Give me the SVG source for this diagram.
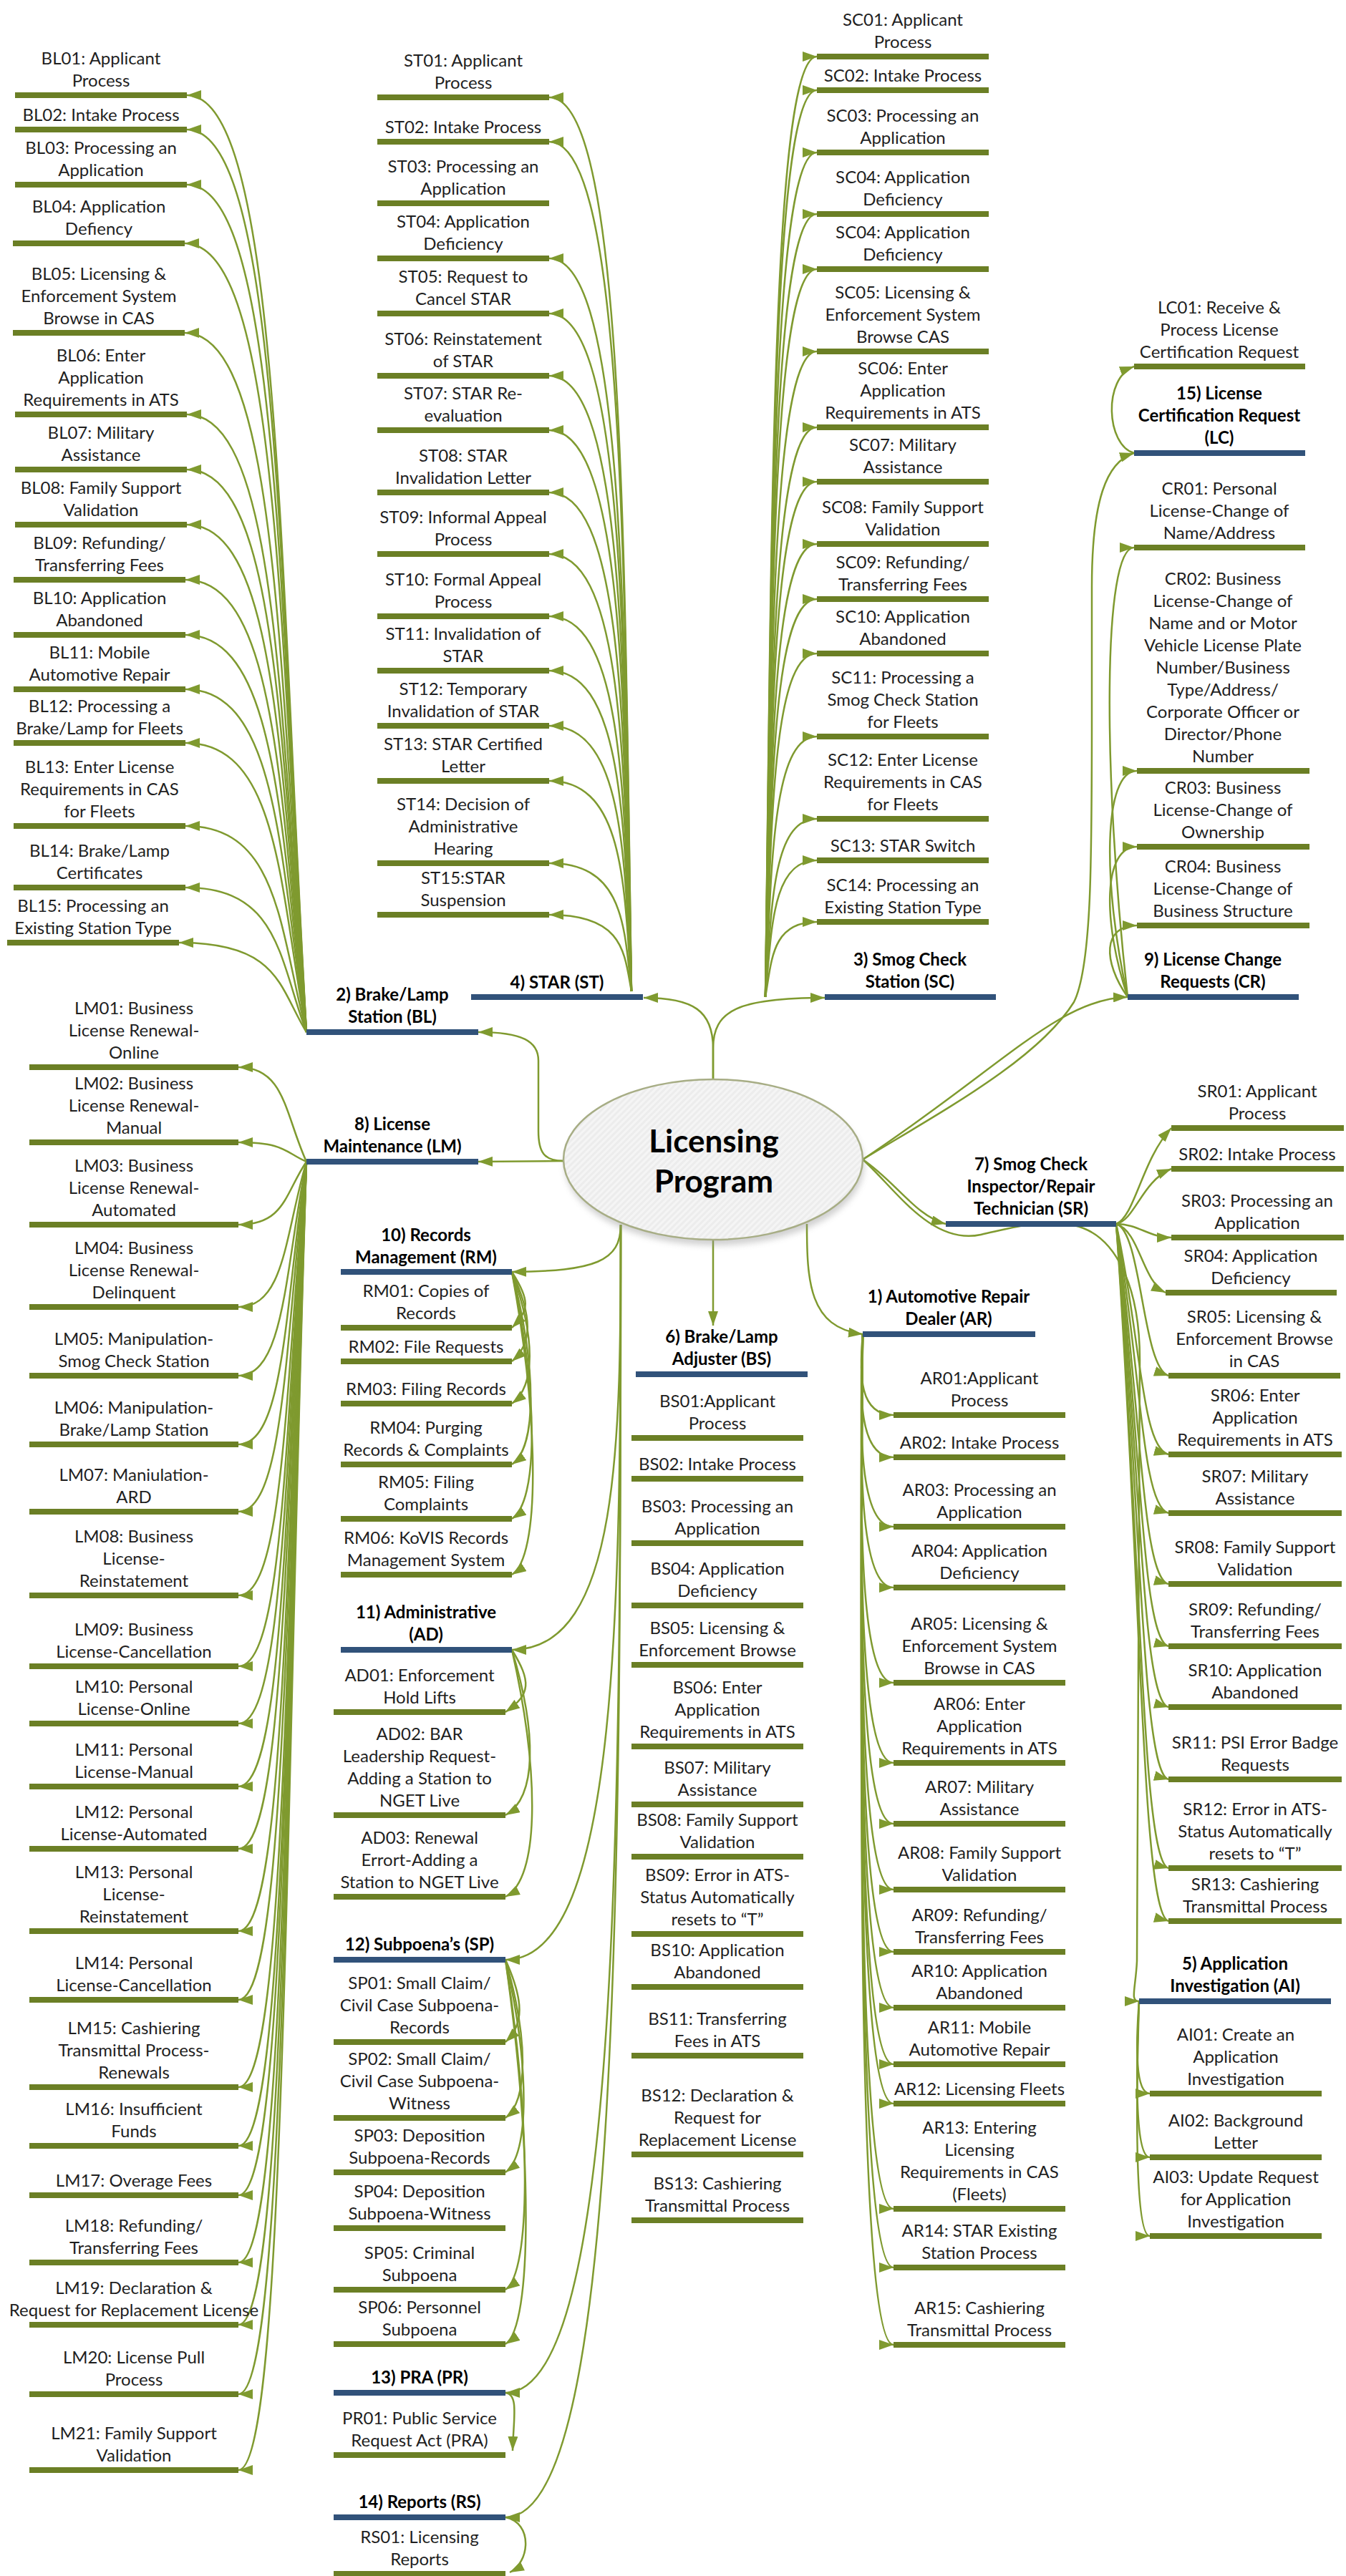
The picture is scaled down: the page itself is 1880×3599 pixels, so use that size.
<svg xmlns="http://www.w3.org/2000/svg" width="1880" height="3599" viewBox="0 0 1880 3599">
<defs>
<style>
.t{font-family:Lato,"Liberation Sans",sans-serif;font-size:24px;fill:#1f1f1f;text-anchor:middle}
.h{font-family:Lato,"Liberation Sans",sans-serif;font-size:24px;font-weight:bold;fill:#000;text-anchor:middle}
.bar{fill:#6b7f25}
.root{fill:#31527a}
.c{fill:none;stroke:#7f9a2f;stroke-width:2.5;marker-end:url(#ah)}
.title{font-family:Lato,"Liberation Sans",sans-serif;font-size:44px;font-weight:bold;fill:#000;text-anchor:middle}
</style>
<marker id="ah" markerUnits="userSpaceOnUse" viewBox="0 0 20 14" markerWidth="20" markerHeight="14" refX="20" refY="7" orient="auto">
<path d="M0 0 L20 7 L0 14 z" fill="#7f9a2f"/>
</marker>
<pattern id="hatch" width="6" height="6" patternUnits="userSpaceOnUse" patternTransform="rotate(45)">
<rect width="6" height="6" fill="#ececec"/><rect width="3" height="6" fill="#f5f5f5"/>
</pattern>
<filter id="sh" x="-20%" y="-20%" width="140%" height="140%"><feGaussianBlur stdDeviation="4"/></filter>
</defs>
<rect width="1880" height="3599" fill="#fff"/>

<g id="connectors">
<!-- centre to main branches -->
<path class="c" d="M996 1508 L996 1465 C996 1412 968 1394 899 1394"/>
<path class="c" d="M996 1508 L996 1465 C996 1412 1030 1394 1152 1394"/>
<path class="c" d="M787 1622 C760 1622 752 1610 752 1580 L752 1482 C752 1455 730 1442 668 1442"/>
<path class="c" d="M787 1622 L668 1623"/>
<path class="c" d="M867 1711 C867 1762 832 1776 715 1777"/>
<path class="c" d="M867 1711 C867 2008 867 2305 715 2305"/>
<path class="c" d="M867 1711 C867 2224 867 2738 706 2738"/>
<path class="c" d="M867 1711 C867 2527 867 3343 706 3343"/>
<path class="c" d="M867 1711 C867 2614 867 3517 706 3517"/>
<path class="c" d="M996 1733 L996 1852"/>
<path class="c" d="M1127 1710 C1127 1790 1130 1855 1205 1864"/>
<path class="c" d="M1205 1620 C1250 1650 1280 1700 1321 1710"/>
<path class="c" d="M1205 1620 C1250 1660 1300 1740 1370 1725 C1420 1714 1450 1704 1500 1712 C1560 1725 1592 1800 1592 1900 L1588 2740 C1586 2780 1578 2796 1591 2796"/>
<path class="c" d="M1205 1620 C1400 1490 1480 1395 1575 1393"/>
<path class="c" d="M1205 1620 C1320 1550 1450 1480 1500 1400 C1525 1350 1525 1200 1525 1000 L1525 820 C1525 700 1545 645 1584 633"/>
<!-- 2) Brake/Lamp Station -->
<path class="c" d="M428 1442 C390 788 390 133 261 133"/>
<path class="c" d="M428 1442 C390 812 390 181 261 181"/>
<path class="c" d="M428 1442 C390 850 390 258 261 258"/>
<path class="c" d="M428 1442 C390 891 390 340 258 340"/>
<path class="c" d="M428 1442 C390 954 390 465 258 465"/>
<path class="c" d="M428 1442 C390 1011 390 579 261 579"/>
<path class="c" d="M428 1442 C390 1049 390 656 261 656"/>
<path class="c" d="M428 1442 C390 1088 390 733 261 733"/>
<path class="c" d="M428 1442 C390 1126 390 810 259 810"/>
<path class="c" d="M428 1442 C390 1165 390 887 259 887"/>
<path class="c" d="M428 1442 C390 1203 390 963 259 963"/>
<path class="c" d="M428 1442 C390 1240 390 1038 259 1038"/>
<path class="c" d="M428 1442 C390 1298 390 1154 259 1154"/>
<path class="c" d="M428 1442 C390 1341 390 1240 259 1240"/>
<path class="c" d="M428 1442 C390 1380 390 1317 250 1317"/>
<!-- 4) STAR -->
<path class="c" d="M882 1385 C872 761 872 136 767 136"/>
<path class="c" d="M882 1385 C872 792 872 198 767 198"/>
<path class="c" d="M882 1385 C872 873 872 361 767 361"/>
<path class="c" d="M882 1385 C872 912 872 438 767 438"/>
<path class="c" d="M882 1385 C872 955 872 525 767 525"/>
<path class="c" d="M882 1385 C872 993 872 601 767 601"/>
<path class="c" d="M882 1385 C872 1037 872 688 767 688"/>
<path class="c" d="M882 1385 C872 1080 872 774 767 774"/>
<path class="c" d="M882 1385 C872 1123 872 861 767 861"/>
<path class="c" d="M882 1385 C872 1161 872 937 767 937"/>
<path class="c" d="M882 1385 C872 1200 872 1014 767 1014"/>
<path class="c" d="M882 1385 C872 1238 872 1091 767 1091"/>
<path class="c" d="M882 1385 C872 1296 872 1206 767 1206"/>
<path class="c" d="M882 1385 C872 1332 872 1278 767 1278"/>
<!-- 3) Smog Check Station -->
<path class="c" d="M1069 1393 C1078 736 1078 79 1141 79"/>
<path class="c" d="M1069 1393 C1078 760 1078 126 1141 126"/>
<path class="c" d="M1069 1393 C1078 803 1078 213 1141 213"/>
<path class="c" d="M1069 1393 C1078 846 1078 299 1141 299"/>
<path class="c" d="M1069 1393 C1078 885 1078 376 1141 376"/>
<path class="c" d="M1069 1393 C1078 942 1078 491 1141 491"/>
<path class="c" d="M1069 1393 C1078 995 1078 597 1141 597"/>
<path class="c" d="M1069 1393 C1078 1033 1078 673 1141 673"/>
<path class="c" d="M1069 1393 C1078 1077 1078 760 1141 760"/>
<path class="c" d="M1069 1393 C1078 1115 1078 837 1141 837"/>
<path class="c" d="M1069 1393 C1078 1153 1078 913 1141 913"/>
<path class="c" d="M1069 1393 C1078 1211 1078 1029 1141 1029"/>
<path class="c" d="M1069 1393 C1078 1269 1078 1144 1141 1144"/>
<path class="c" d="M1069 1393 C1078 1298 1078 1202 1141 1202"/>
<path class="c" d="M1069 1393 C1078 1341 1078 1288 1141 1288"/>
<!-- 15) License Certification Request -->
<path class="c" d="M1584 633 C1545 622 1540 528 1584 512"/>
<!-- 9) License Change Requests -->
<path class="c" d="M1575 1393 C1540 1079 1540 765 1584 765"/>
<path class="c" d="M1575 1393 C1540 1235 1540 1077 1588 1077"/>
<path class="c" d="M1575 1393 C1540 1288 1540 1183 1588 1183"/>
<path class="c" d="M1575 1393 C1540 1343 1540 1293 1588 1293"/>
<!-- 8) License Maintenance -->
<path class="c" d="M428 1623 C398 1557 398 1491 333 1491"/>
<path class="c" d="M428 1623 C398 1610 398 1596 333 1596"/>
<path class="c" d="M428 1623 C398 1667 398 1711 333 1711"/>
<path class="c" d="M428 1623 C398 1725 398 1826 333 1826"/>
<path class="c" d="M428 1623 C398 1773 398 1922 333 1922"/>
<path class="c" d="M428 1623 C398 1821 398 2018 333 2018"/>
<path class="c" d="M428 1623 C398 1868 398 2112 333 2112"/>
<path class="c" d="M428 1623 C398 1926 398 2229 333 2229"/>
<path class="c" d="M428 1623 C398 1976 398 2328 333 2328"/>
<path class="c" d="M428 1623 C398 2016 398 2408 333 2408"/>
<path class="c" d="M428 1623 C398 2060 398 2496 333 2496"/>
<path class="c" d="M428 1623 C398 2103 398 2583 333 2583"/>
<path class="c" d="M428 1623 C398 2161 398 2698 333 2698"/>
<path class="c" d="M428 1623 C398 2209 398 2794 333 2794"/>
<path class="c" d="M428 1623 C398 2270 398 2916 333 2916"/>
<path class="c" d="M428 1623 C398 2311 398 2998 333 2998"/>
<path class="c" d="M428 1623 C398 2345 398 3067 333 3067"/>
<path class="c" d="M428 1623 C398 2392 398 3161 333 3161"/>
<path class="c" d="M428 1623 C398 2436 398 3248 333 3248"/>
<path class="c" d="M428 1623 C398 2484 398 3345 333 3345"/>
<path class="c" d="M428 1623 C398 2537 398 3451 333 3451"/>
<!-- 1) Automotive Repair Dealer -->
<path class="c" d="M1205 1864 C1200 1921 1200 1977 1248 1977"/>
<path class="c" d="M1205 1864 C1200 1950 1200 2036 1248 2036"/>
<path class="c" d="M1205 1864 C1200 1999 1200 2133 1248 2133"/>
<path class="c" d="M1205 1864 C1200 2041 1200 2218 1248 2218"/>
<path class="c" d="M1205 1864 C1200 2108 1200 2351 1248 2351"/>
<path class="c" d="M1205 1864 C1200 2164 1200 2463 1248 2463"/>
<path class="c" d="M1205 1864 C1200 2206 1200 2548 1248 2548"/>
<path class="c" d="M1205 1864 C1200 2252 1200 2640 1248 2640"/>
<path class="c" d="M1205 1864 C1200 2296 1200 2727 1248 2727"/>
<path class="c" d="M1205 1864 C1200 2335 1200 2805 1248 2805"/>
<path class="c" d="M1205 1864 C1200 2374 1200 2884 1248 2884"/>
<path class="c" d="M1205 1864 C1200 2402 1200 2939 1248 2939"/>
<path class="c" d="M1205 1864 C1200 2475 1200 3086 1248 3086"/>
<path class="c" d="M1205 1864 C1200 2516 1200 3168 1248 3168"/>
<path class="c" d="M1205 1864 C1200 2570 1200 3276 1248 3276"/>
<!-- 7) Smog Check Inspector/Repair Technician -->
<path class="c" d="M1559 1710 C1585 1700 1595 1620 1636 1576"/>
<path class="c" d="M1559 1710 C1585 1705 1595 1650 1636 1633"/>
<path class="c" d="M1559 1710 C1590 1710 1605 1729 1636 1729"/>
<path class="c" d="M1559 1710 C1592 1720 1595 1790 1628 1806"/>
<path class="c" d="M1559 1710 C1595 1720 1595 1910 1632 1922"/>
<path class="c" d="M1559 1710 C1594 1871 1594 2022 1632 2032"/>
<path class="c" d="M1559 1710 C1594 1912 1594 2104 1632 2114"/>
<path class="c" d="M1559 1710 C1594 1962 1594 2203 1632 2213"/>
<path class="c" d="M1559 1710 C1594 2005 1594 2290 1632 2300"/>
<path class="c" d="M1559 1710 C1594 2048 1594 2375 1632 2385"/>
<path class="c" d="M1559 1710 C1594 2098 1594 2476 1632 2486"/>
<path class="c" d="M1559 1710 C1594 2160 1594 2600 1632 2610"/>
<path class="c" d="M1559 1710 C1594 2197 1594 2674 1632 2684"/>
<!-- 5) Application Investigation -->
<path class="c" d="M1591 2796 C1586 2861 1586 2925 1606 2925"/>
<path class="c" d="M1591 2796 C1586 2905 1586 3014 1606 3014"/>
<path class="c" d="M1591 2796 C1586 2960 1586 3124 1606 3124"/>
<!-- 10) Records Management -->
<path class="c" d="M715 1777 C740 1816 740 1830 715 1855"/>
<path class="c" d="M715 1777 C744 1840 744 1877 715 1902"/>
<path class="c" d="M715 1777 C748 1869 748 1936 715 1961"/>
<path class="c" d="M715 1777 C750 1912 750 2021 715 2046"/>
<path class="c" d="M715 1777 C752 1950 752 2097 715 2122"/>
<path class="c" d="M715 1777 C754 1989 754 2175 715 2200"/>
<!-- 11) Administrative -->
<path class="c" d="M715 2305 C742 2349 742 2367 706 2392"/>
<path class="c" d="M715 2305 C750 2421 750 2511 706 2536"/>
<path class="c" d="M715 2305 C754 2478 754 2625 706 2650"/>
<!-- 12) Subpoena's -->
<path class="c" d="M706 2738 C732 2796 732 2828 706 2853"/>
<path class="c" d="M706 2738 C738 2849 738 2934 706 2959"/>
<path class="c" d="M706 2738 C740 2887 740 3010 706 3035"/>
<path class="c" d="M706 2738 C742 2969 742 3174 706 3199"/>
<path class="c" d="M706 2738 C744 3007 744 3250 706 3275"/>
<!-- 13) PRA / 14) Reports -->
<path class="c" d="M706 3343 C725 3345 717 3380 716 3424"/>
<path class="c" d="M706 3517 C745 3525 740 3580 712 3594"/>
</g>

<!-- centre -->
<g id="center">
<ellipse cx="998" cy="1628" rx="209" ry="112" fill="#9a9a9a" opacity="0.45" filter="url(#sh)"/>
<ellipse cx="996" cy="1620" rx="209" ry="112" fill="url(#hatch)" stroke="#a7ad85" stroke-width="2.5"/>
<text class="title" x="997" y="1610">Licensing</text>
<text class="title" x="997" y="1666">Program</text>
</g>

<!-- branch roots -->
<g id="BL"><text class="h"><tspan x="548" y="1398">2) Brake/Lamp</tspan><tspan x="548" y="1429">Station (BL)</tspan></text><rect class="root" x="428" y="1438" width="240" height="8"/></g>
<g id="LM"><text class="h"><tspan x="548" y="1579">8) License</tspan><tspan x="548" y="1610">Maintenance (LM)</tspan></text><rect class="root" x="428" y="1619" width="240" height="8"/></g>
<g id="ST"><text class="h" x="778" y="1381">4) STAR (ST)</text><rect class="root" x="658" y="1389" width="240" height="8"/></g>
<g id="SC"><text class="h"><tspan x="1271" y="1349">3) Smog Check</tspan><tspan x="1271" y="1380">Station (SC)</tspan></text><rect class="root" x="1152" y="1389" width="239" height="8"/></g>
<g id="LC"><text class="h"><tspan x="1703" y="558">15) License</tspan><tspan x="1703" y="589">Certification Request</tspan><tspan x="1703" y="620">(LC)</tspan></text><rect class="root" x="1584" y="629" width="239" height="8"/></g>
<g id="CR"><text class="h"><tspan x="1694" y="1349">9) License Change</tspan><tspan x="1694" y="1380">Requests (CR)</tspan></text><rect class="root" x="1575" y="1389" width="239" height="8"/></g>
<g id="SR"><text class="h"><tspan x="1440" y="1635">7) Smog Check</tspan><tspan x="1440" y="1666">Inspector/Repair</tspan><tspan x="1440" y="1697">Technician (SR)</tspan></text><rect class="root" x="1321" y="1706" width="238" height="8"/></g>
<g id="AR"><text class="h"><tspan x="1325" y="1820">1) Automotive Repair</tspan><tspan x="1325" y="1851">Dealer (AR)</tspan></text><rect class="root" x="1205" y="1860" width="241" height="8"/></g>
<g id="BS"><text class="h"><tspan x="1008" y="1876">6) Brake/Lamp</tspan><tspan x="1008" y="1907">Adjuster (BS)</tspan></text><rect class="root" x="888" y="1916" width="240" height="8"/></g>
<g id="AI"><text class="h"><tspan x="1725" y="2752">5) Application</tspan><tspan x="1725" y="2783">Investigation (AI)</tspan></text><rect class="root" x="1591" y="2792" width="268" height="8"/></g>
<g id="RM"><text class="h"><tspan x="595" y="1734">10) Records</tspan><tspan x="595" y="1765">Management (RM)</tspan></text><rect class="root" x="476" y="1773" width="239" height="8"/></g>
<g id="AD"><text class="h"><tspan x="595" y="2261">11) Administrative</tspan><tspan x="595" y="2292">(AD)</tspan></text><rect class="root" x="476" y="2301" width="239" height="8"/></g>
<g id="SP"><text class="h" x="586" y="2725">12) Subpoena’s (SP)</text><rect class="root" x="466" y="2734" width="240" height="8"/></g>
<g id="PR"><text class="h" x="586" y="3330">13) PRA (PR)</text><rect class="root" x="466" y="3339" width="240" height="8"/></g>
<g id="RS"><text class="h" x="586" y="3504">14) Reports (RS)</text><rect class="root" x="466" y="3513" width="240" height="8"/></g>

<!-- Brake/Lamp Station items -->
<g id="BL01"><text class="t"><tspan x="141" y="90">BL01: Applicant</tspan><tspan x="141" y="121">Process</tspan></text><rect class="bar" x="21" y="129" width="240" height="8"/></g>
<g id="BL02"><text class="t" x="141" y="169">BL02: Intake Process</text><rect class="bar" x="21" y="177" width="240" height="8"/></g>
<g id="BL03"><text class="t"><tspan x="141" y="215">BL03: Processing an</tspan><tspan x="141" y="246">Application</tspan></text><rect class="bar" x="21" y="254" width="240" height="8"/></g>
<g id="BL04"><text class="t"><tspan x="138" y="297">BL04: Application</tspan><tspan x="138" y="328">Defiency</tspan></text><rect class="bar" x="18" y="336" width="240" height="8"/></g>
<g id="BL05"><text class="t"><tspan x="138" y="391">BL05: Licensing &amp;</tspan><tspan x="138" y="422">Enforcement System</tspan><tspan x="138" y="453">Browse in CAS</tspan></text><rect class="bar" x="18" y="461" width="240" height="8"/></g>
<g id="BL06"><text class="t"><tspan x="141" y="505">BL06: Enter</tspan><tspan x="141" y="536">Application</tspan><tspan x="141" y="567">Requirements in ATS</tspan></text><rect class="bar" x="21" y="575" width="240" height="8"/></g>
<g id="BL07"><text class="t"><tspan x="141" y="613">BL07: Military</tspan><tspan x="141" y="644">Assistance</tspan></text><rect class="bar" x="21" y="652" width="240" height="8"/></g>
<g id="BL08"><text class="t"><tspan x="141" y="690">BL08: Family Support</tspan><tspan x="141" y="721">Validation</tspan></text><rect class="bar" x="21" y="729" width="240" height="8"/></g>
<g id="BL09"><text class="t"><tspan x="139" y="767">BL09: Refunding/</tspan><tspan x="139" y="798">Transferring Fees</tspan></text><rect class="bar" x="19" y="806" width="240" height="8"/></g>
<g id="BL10"><text class="t"><tspan x="139" y="844">BL10: Application</tspan><tspan x="139" y="875">Abandoned</tspan></text><rect class="bar" x="19" y="883" width="240" height="8"/></g>
<g id="BL11"><text class="t"><tspan x="139" y="920">BL11: Mobile</tspan><tspan x="139" y="951">Automotive Repair</tspan></text><rect class="bar" x="19" y="959" width="240" height="8"/></g>
<g id="BL12"><text class="t"><tspan x="139" y="995">BL12: Processing a</tspan><tspan x="139" y="1026">Brake/Lamp for Fleets</tspan></text><rect class="bar" x="19" y="1034" width="240" height="8"/></g>
<g id="BL13"><text class="t"><tspan x="139" y="1080">BL13: Enter License</tspan><tspan x="139" y="1111">Requirements in CAS</tspan><tspan x="139" y="1142">for Fleets</tspan></text><rect class="bar" x="19" y="1150" width="240" height="8"/></g>
<g id="BL14"><text class="t"><tspan x="139" y="1197">BL14: Brake/Lamp</tspan><tspan x="139" y="1228">Certificates</tspan></text><rect class="bar" x="19" y="1236" width="240" height="8"/></g>
<g id="BL15"><text class="t"><tspan x="130" y="1274">BL15: Processing an</tspan><tspan x="130" y="1305">Existing Station Type</tspan></text><rect class="bar" x="10" y="1313" width="240" height="8"/></g>

<!-- STAR items -->
<g id="ST01"><text class="t"><tspan x="647" y="93">ST01: Applicant</tspan><tspan x="647" y="124">Process</tspan></text><rect class="bar" x="527" y="132" width="240" height="8"/></g>
<g id="ST02"><text class="t" x="647" y="186">ST02: Intake Process</text><rect class="bar" x="527" y="194" width="240" height="8"/></g>
<g id="ST03"><text class="t"><tspan x="647" y="241">ST03: Processing an</tspan><tspan x="647" y="272">Application</tspan></text><rect class="bar" x="527" y="280" width="240" height="8"/></g>
<g id="ST04"><text class="t"><tspan x="647" y="318">ST04: Application</tspan><tspan x="647" y="349">Deficiency</tspan></text><rect class="bar" x="527" y="357" width="240" height="8"/></g>
<g id="ST05"><text class="t"><tspan x="647" y="395">ST05: Request to</tspan><tspan x="647" y="426">Cancel STAR</tspan></text><rect class="bar" x="527" y="434" width="240" height="8"/></g>
<g id="ST06"><text class="t"><tspan x="647" y="482">ST06: Reinstatement</tspan><tspan x="647" y="513">of STAR</tspan></text><rect class="bar" x="527" y="521" width="240" height="8"/></g>
<g id="ST07"><text class="t"><tspan x="647" y="558">ST07: STAR Re-</tspan><tspan x="647" y="589">evaluation</tspan></text><rect class="bar" x="527" y="597" width="240" height="8"/></g>
<g id="ST08"><text class="t"><tspan x="647" y="645">ST08: STAR</tspan><tspan x="647" y="676">Invalidation Letter</tspan></text><rect class="bar" x="527" y="684" width="240" height="8"/></g>
<g id="ST09"><text class="t"><tspan x="647" y="731">ST09: Informal Appeal</tspan><tspan x="647" y="762">Process</tspan></text><rect class="bar" x="527" y="770" width="240" height="8"/></g>
<g id="ST10"><text class="t"><tspan x="647" y="818">ST10: Formal Appeal</tspan><tspan x="647" y="849">Process</tspan></text><rect class="bar" x="527" y="857" width="240" height="8"/></g>
<g id="ST11"><text class="t"><tspan x="647" y="894">ST11: Invalidation of</tspan><tspan x="647" y="925">STAR</tspan></text><rect class="bar" x="527" y="933" width="240" height="8"/></g>
<g id="ST12"><text class="t"><tspan x="647" y="971">ST12: Temporary</tspan><tspan x="647" y="1002">Invalidation of STAR</tspan></text><rect class="bar" x="527" y="1010" width="240" height="8"/></g>
<g id="ST13"><text class="t"><tspan x="647" y="1048">ST13: STAR Certified</tspan><tspan x="647" y="1079">Letter</tspan></text><rect class="bar" x="527" y="1087" width="240" height="8"/></g>
<g id="ST14"><text class="t"><tspan x="647" y="1132">ST14: Decision of</tspan><tspan x="647" y="1163">Administrative</tspan><tspan x="647" y="1194">Hearing</tspan></text><rect class="bar" x="527" y="1202" width="240" height="8"/></g>
<g id="ST15"><text class="t"><tspan x="647" y="1235">ST15:STAR</tspan><tspan x="647" y="1266">Suspension</tspan></text><rect class="bar" x="527" y="1274" width="240" height="8"/></g>

<!-- Smog Check Station items -->
<g id="SC01"><text class="t"><tspan x="1261" y="36">SC01: Applicant</tspan><tspan x="1261" y="67">Process</tspan></text><rect class="bar" x="1141" y="75" width="240" height="8"/></g>
<g id="SC02"><text class="t" x="1261" y="114">SC02: Intake Process</text><rect class="bar" x="1141" y="122" width="240" height="8"/></g>
<g id="SC03"><text class="t"><tspan x="1261" y="170">SC03: Processing an</tspan><tspan x="1261" y="201">Application</tspan></text><rect class="bar" x="1141" y="209" width="240" height="8"/></g>
<g id="SC04a"><text class="t"><tspan x="1261" y="256">SC04: Application</tspan><tspan x="1261" y="287">Deficiency</tspan></text><rect class="bar" x="1141" y="295" width="240" height="8"/></g>
<g id="SC04b"><text class="t"><tspan x="1261" y="333">SC04: Application</tspan><tspan x="1261" y="364">Deficiency</tspan></text><rect class="bar" x="1141" y="372" width="240" height="8"/></g>
<g id="SC05"><text class="t"><tspan x="1261" y="417">SC05: Licensing &amp;</tspan><tspan x="1261" y="448">Enforcement System</tspan><tspan x="1261" y="479">Browse CAS</tspan></text><rect class="bar" x="1141" y="487" width="240" height="8"/></g>
<g id="SC06"><text class="t"><tspan x="1261" y="523">SC06: Enter</tspan><tspan x="1261" y="554">Application</tspan><tspan x="1261" y="585">Requirements in ATS</tspan></text><rect class="bar" x="1141" y="593" width="240" height="8"/></g>
<g id="SC07"><text class="t"><tspan x="1261" y="630">SC07: Military</tspan><tspan x="1261" y="661">Assistance</tspan></text><rect class="bar" x="1141" y="669" width="240" height="8"/></g>
<g id="SC08"><text class="t"><tspan x="1261" y="717">SC08: Family Support</tspan><tspan x="1261" y="748">Validation</tspan></text><rect class="bar" x="1141" y="756" width="240" height="8"/></g>
<g id="SC09"><text class="t"><tspan x="1261" y="794">SC09: Refunding/</tspan><tspan x="1261" y="825">Transferring Fees</tspan></text><rect class="bar" x="1141" y="833" width="240" height="8"/></g>
<g id="SC10"><text class="t"><tspan x="1261" y="870">SC10: Application</tspan><tspan x="1261" y="901">Abandoned</tspan></text><rect class="bar" x="1141" y="909" width="240" height="8"/></g>
<g id="SC11"><text class="t"><tspan x="1261" y="955">SC11: Processing  a</tspan><tspan x="1261" y="986">Smog Check Station</tspan><tspan x="1261" y="1017">for Fleets</tspan></text><rect class="bar" x="1141" y="1025" width="240" height="8"/></g>
<g id="SC12"><text class="t"><tspan x="1261" y="1070">SC12: Enter License</tspan><tspan x="1261" y="1101">Requirements in CAS</tspan><tspan x="1261" y="1132">for Fleets</tspan></text><rect class="bar" x="1141" y="1140" width="240" height="8"/></g>
<g id="SC13"><text class="t" x="1261" y="1190">SC13: STAR Switch</text><rect class="bar" x="1141" y="1198" width="240" height="8"/></g>
<g id="SC14"><text class="t"><tspan x="1261" y="1245">SC14: Processing an</tspan><tspan x="1261" y="1276">Existing Station Type</tspan></text><rect class="bar" x="1141" y="1284" width="240" height="8"/></g>

<!-- License Certification / Change items -->
<g id="LC01"><text class="t"><tspan x="1703" y="438">LC01: Receive &amp;</tspan><tspan x="1703" y="469">Process License</tspan><tspan x="1703" y="500">Certification Request</tspan></text><rect class="bar" x="1584" y="508" width="239" height="8"/></g>
<g id="CR01"><text class="t"><tspan x="1703" y="691">CR01: Personal</tspan><tspan x="1703" y="722">License-Change of</tspan><tspan x="1703" y="753">Name/Address</tspan></text><rect class="bar" x="1584" y="761" width="239" height="8"/></g>
<g id="CR02"><text class="t"><tspan x="1708" y="817">CR02: Business</tspan><tspan x="1708" y="848">License-Change of</tspan><tspan x="1708" y="879">Name and or Motor</tspan><tspan x="1708" y="910">Vehicle License Plate</tspan><tspan x="1708" y="941">Number/Business</tspan><tspan x="1708" y="972">Type/Address/</tspan><tspan x="1708" y="1003">Corporate Officer or</tspan><tspan x="1708" y="1034">Director/Phone</tspan><tspan x="1708" y="1065">Number</tspan></text><rect class="bar" x="1588" y="1073" width="241" height="8"/></g>
<g id="CR03"><text class="t"><tspan x="1708" y="1109">CR03: Business</tspan><tspan x="1708" y="1140">License-Change of</tspan><tspan x="1708" y="1171">Ownership</tspan></text><rect class="bar" x="1588" y="1179" width="241" height="8"/></g>
<g id="CR04"><text class="t"><tspan x="1708" y="1219">CR04: Business</tspan><tspan x="1708" y="1250">License-Change of</tspan><tspan x="1708" y="1281">Business Structure</tspan></text><rect class="bar" x="1588" y="1289" width="241" height="8"/></g>

<!-- License Maintenance items -->
<g id="LM01"><text class="t"><tspan x="187" y="1417">LM01: Business</tspan><tspan x="187" y="1448">License Renewal-</tspan><tspan x="187" y="1479">Online</tspan></text><rect class="bar" x="41" y="1487" width="292" height="8"/></g>
<g id="LM02"><text class="t"><tspan x="187" y="1522">LM02: Business</tspan><tspan x="187" y="1553">License Renewal-</tspan><tspan x="187" y="1584">Manual</tspan></text><rect class="bar" x="41" y="1592" width="292" height="8"/></g>
<g id="LM03"><text class="t"><tspan x="187" y="1637">LM03: Business</tspan><tspan x="187" y="1668">License Renewal-</tspan><tspan x="187" y="1699">Automated</tspan></text><rect class="bar" x="41" y="1707" width="292" height="8"/></g>
<g id="LM04"><text class="t"><tspan x="187" y="1752">LM04: Business</tspan><tspan x="187" y="1783">License Renewal-</tspan><tspan x="187" y="1814">Delinquent</tspan></text><rect class="bar" x="41" y="1822" width="292" height="8"/></g>
<g id="LM05"><text class="t"><tspan x="187" y="1879">LM05: Manipulation-</tspan><tspan x="187" y="1910">Smog Check Station</tspan></text><rect class="bar" x="41" y="1918" width="292" height="8"/></g>
<g id="LM06"><text class="t"><tspan x="187" y="1975">LM06: Manipulation-</tspan><tspan x="187" y="2006">Brake/Lamp Station</tspan></text><rect class="bar" x="41" y="2014" width="292" height="8"/></g>
<g id="LM07"><text class="t"><tspan x="187" y="2069">LM07: Maniulation-</tspan><tspan x="187" y="2100">ARD</tspan></text><rect class="bar" x="41" y="2108" width="292" height="8"/></g>
<g id="LM08"><text class="t"><tspan x="187" y="2155">LM08: Business</tspan><tspan x="187" y="2186">License-</tspan><tspan x="187" y="2217">Reinstatement</tspan></text><rect class="bar" x="41" y="2225" width="292" height="8"/></g>
<g id="LM09"><text class="t"><tspan x="187" y="2285">LM09: Business</tspan><tspan x="187" y="2316">License-Cancellation</tspan></text><rect class="bar" x="41" y="2324" width="292" height="8"/></g>
<g id="LM10"><text class="t"><tspan x="187" y="2365">LM10: Personal</tspan><tspan x="187" y="2396">License-Online</tspan></text><rect class="bar" x="41" y="2404" width="292" height="8"/></g>
<g id="LM11"><text class="t"><tspan x="187" y="2453">LM11: Personal</tspan><tspan x="187" y="2484">License-Manual</tspan></text><rect class="bar" x="41" y="2492" width="292" height="8"/></g>
<g id="LM12"><text class="t"><tspan x="187" y="2540">LM12: Personal</tspan><tspan x="187" y="2571">License-Automated</tspan></text><rect class="bar" x="41" y="2579" width="292" height="8"/></g>
<g id="LM13"><text class="t"><tspan x="187" y="2624">LM13: Personal</tspan><tspan x="187" y="2655">License-</tspan><tspan x="187" y="2686">Reinstatement</tspan></text><rect class="bar" x="41" y="2694" width="292" height="8"/></g>
<g id="LM14"><text class="t"><tspan x="187" y="2751">LM14: Personal</tspan><tspan x="187" y="2782">License-Cancellation</tspan></text><rect class="bar" x="41" y="2790" width="292" height="8"/></g>
<g id="LM15"><text class="t"><tspan x="187" y="2842">LM15: Cashiering</tspan><tspan x="187" y="2873">Transmittal Process-</tspan><tspan x="187" y="2904">Renewals</tspan></text><rect class="bar" x="41" y="2912" width="292" height="8"/></g>
<g id="LM16"><text class="t"><tspan x="187" y="2955">LM16: Insufficient</tspan><tspan x="187" y="2986">Funds</tspan></text><rect class="bar" x="41" y="2994" width="292" height="8"/></g>
<g id="LM17"><text class="t" x="187" y="3055">LM17: Overage Fees</text><rect class="bar" x="41" y="3063" width="292" height="8"/></g>
<g id="LM18"><text class="t"><tspan x="187" y="3118">LM18: Refunding/</tspan><tspan x="187" y="3149">Transferring Fees</tspan></text><rect class="bar" x="41" y="3157" width="292" height="8"/></g>
<g id="LM19"><text class="t"><tspan x="187" y="3205">LM19: Declaration &amp;</tspan><tspan x="187" y="3236">Request for Replacement License</tspan></text><rect class="bar" x="41" y="3244" width="292" height="8"/></g>
<g id="LM20"><text class="t"><tspan x="187" y="3302">LM20: License Pull</tspan><tspan x="187" y="3333">Process</tspan></text><rect class="bar" x="41" y="3341" width="292" height="8"/></g>
<g id="LM21"><text class="t"><tspan x="187" y="3408">LM21: Family Support</tspan><tspan x="187" y="3439">Validation</tspan></text><rect class="bar" x="41" y="3447" width="292" height="8"/></g>

<!-- Records / Administrative / Subpoena / PRA / Reports items -->
<g id="RM01"><text class="t"><tspan x="595" y="1812">RM01: Copies of</tspan><tspan x="595" y="1843">Records</tspan></text><rect class="bar" x="476" y="1851" width="239" height="8"/></g>
<g id="RM02"><text class="t" x="595" y="1890">RM02: File Requests</text><rect class="bar" x="476" y="1898" width="239" height="8"/></g>
<g id="RM03"><text class="t" x="595" y="1949">RM03: Filing Records</text><rect class="bar" x="476" y="1957" width="239" height="8"/></g>
<g id="RM04"><text class="t"><tspan x="595" y="2003">RM04: Purging</tspan><tspan x="595" y="2034">Records &amp; Complaints</tspan></text><rect class="bar" x="476" y="2042" width="239" height="8"/></g>
<g id="RM05"><text class="t"><tspan x="595" y="2079">RM05: Filing</tspan><tspan x="595" y="2110">Complaints</tspan></text><rect class="bar" x="476" y="2118" width="239" height="8"/></g>
<g id="RM06"><text class="t"><tspan x="595" y="2157">RM06: KoVIS Records</tspan><tspan x="595" y="2188">Management System</tspan></text><rect class="bar" x="476" y="2196" width="239" height="8"/></g>
<g id="AD01"><text class="t"><tspan x="586" y="2349">AD01: Enforcement</tspan><tspan x="586" y="2380">Hold Lifts</tspan></text><rect class="bar" x="466" y="2388" width="240" height="8"/></g>
<g id="AD02"><text class="t"><tspan x="586" y="2431">AD02: BAR</tspan><tspan x="586" y="2462">Leadership Request-</tspan><tspan x="586" y="2493">Adding a Station to</tspan><tspan x="586" y="2524">NGET Live</tspan></text><rect class="bar" x="466" y="2532" width="240" height="8"/></g>
<g id="AD03"><text class="t"><tspan x="586" y="2576">AD03: Renewal</tspan><tspan x="586" y="2607">Errort-Adding a</tspan><tspan x="586" y="2638">Station to NGET Live</tspan></text><rect class="bar" x="466" y="2646" width="240" height="8"/></g>
<g id="SP01"><text class="t"><tspan x="586" y="2779">SP01: Small Claim/</tspan><tspan x="586" y="2810">Civil Case Subpoena-</tspan><tspan x="586" y="2841">Records</tspan></text><rect class="bar" x="466" y="2849" width="240" height="8"/></g>
<g id="SP02"><text class="t"><tspan x="586" y="2885">SP02: Small Claim/</tspan><tspan x="586" y="2916">Civil Case Subpoena-</tspan><tspan x="586" y="2947">Witness</tspan></text><rect class="bar" x="466" y="2955" width="240" height="8"/></g>
<g id="SP03"><text class="t"><tspan x="586" y="2992">SP03: Deposition</tspan><tspan x="586" y="3023">Subpoena-Records</tspan></text><rect class="bar" x="466" y="3031" width="240" height="8"/></g>
<g id="SP04"><text class="t"><tspan x="586" y="3070">SP04: Deposition</tspan><tspan x="586" y="3101">Subpoena-Witness</tspan></text><rect class="bar" x="466" y="3109" width="240" height="8"/></g>
<g id="SP05"><text class="t"><tspan x="586" y="3156">SP05: Criminal</tspan><tspan x="586" y="3187">Subpoena</tspan></text><rect class="bar" x="466" y="3195" width="240" height="8"/></g>
<g id="SP06"><text class="t"><tspan x="586" y="3232">SP06: Personnel</tspan><tspan x="586" y="3263">Subpoena</tspan></text><rect class="bar" x="466" y="3271" width="240" height="8"/></g>
<g id="PR01"><text class="t"><tspan x="586" y="3387">PR01: Public Service</tspan><tspan x="586" y="3418">Request Act (PRA)</tspan></text><rect class="bar" x="466" y="3426" width="240" height="8"/></g>
<g id="RS01"><text class="t"><tspan x="586" y="3553">RS01: Licensing</tspan><tspan x="586" y="3584">Reports</tspan></text><rect class="bar" x="466" y="3592" width="240" height="8"/></g>

<!-- Brake/Lamp Adjuster items -->
<g id="BS01"><text class="t"><tspan x="1002" y="1966">BS01:Applicant</tspan><tspan x="1002" y="1997">Process</tspan></text><rect class="bar" x="882" y="2005" width="240" height="8"/></g>
<g id="BS02"><text class="t" x="1002" y="2054">BS02: Intake Process</text><rect class="bar" x="882" y="2062" width="240" height="8"/></g>
<g id="BS03"><text class="t"><tspan x="1002" y="2113">BS03: Processing an</tspan><tspan x="1002" y="2144">Application</tspan></text><rect class="bar" x="882" y="2152" width="240" height="8"/></g>
<g id="BS04"><text class="t"><tspan x="1002" y="2200">BS04: Application</tspan><tspan x="1002" y="2231">Deficiency</tspan></text><rect class="bar" x="882" y="2239" width="240" height="8"/></g>
<g id="BS05"><text class="t"><tspan x="1002" y="2283">BS05: Licensing &amp;</tspan><tspan x="1002" y="2314">Enforcement Browse</tspan></text><rect class="bar" x="882" y="2322" width="240" height="8"/></g>
<g id="BS06"><text class="t"><tspan x="1002" y="2366">BS06: Enter</tspan><tspan x="1002" y="2397">Application</tspan><tspan x="1002" y="2428">Requirements in ATS</tspan></text><rect class="bar" x="882" y="2436" width="240" height="8"/></g>
<g id="BS07"><text class="t"><tspan x="1002" y="2478">BS07: Military</tspan><tspan x="1002" y="2509">Assistance</tspan></text><rect class="bar" x="882" y="2517" width="240" height="8"/></g>
<g id="BS08"><text class="t"><tspan x="1002" y="2551">BS08: Family Support</tspan><tspan x="1002" y="2582">Validation</tspan></text><rect class="bar" x="882" y="2590" width="240" height="8"/></g>
<g id="BS09"><text class="t"><tspan x="1002" y="2628">BS09: Error in ATS-</tspan><tspan x="1002" y="2659">Status Automatically</tspan><tspan x="1002" y="2690">resets to “T”</tspan></text><rect class="bar" x="882" y="2698" width="240" height="8"/></g>
<g id="BS10"><text class="t"><tspan x="1002" y="2733">BS10: Application</tspan><tspan x="1002" y="2764">Abandoned</tspan></text><rect class="bar" x="882" y="2772" width="240" height="8"/></g>
<g id="BS11"><text class="t"><tspan x="1002" y="2829">BS11: Transferring</tspan><tspan x="1002" y="2860">Fees in ATS</tspan></text><rect class="bar" x="882" y="2868" width="240" height="8"/></g>
<g id="BS12"><text class="t"><tspan x="1002" y="2936">BS12: Declaration &amp;</tspan><tspan x="1002" y="2967">Request for</tspan><tspan x="1002" y="2998">Replacement License</tspan></text><rect class="bar" x="882" y="3006" width="240" height="8"/></g>
<g id="BS13"><text class="t"><tspan x="1002" y="3059">BS13: Cashiering</tspan><tspan x="1002" y="3090">Transmittal Process</tspan></text><rect class="bar" x="882" y="3098" width="240" height="8"/></g>

<!-- Automotive Repair Dealer items -->
<g id="AR01"><text class="t"><tspan x="1368" y="1934">AR01:Applicant</tspan><tspan x="1368" y="1965">Process</tspan></text><rect class="bar" x="1248" y="1973" width="240" height="8"/></g>
<g id="AR02"><text class="t" x="1368" y="2024">AR02: Intake Process</text><rect class="bar" x="1248" y="2032" width="240" height="8"/></g>
<g id="AR03"><text class="t"><tspan x="1368" y="2090">AR03: Processing an</tspan><tspan x="1368" y="2121">Application</tspan></text><rect class="bar" x="1248" y="2129" width="240" height="8"/></g>
<g id="AR04"><text class="t"><tspan x="1368" y="2175">AR04: Application</tspan><tspan x="1368" y="2206">Deficiency</tspan></text><rect class="bar" x="1248" y="2214" width="240" height="8"/></g>
<g id="AR05"><text class="t"><tspan x="1368" y="2277">AR05: Licensing &amp;</tspan><tspan x="1368" y="2308">Enforcement System</tspan><tspan x="1368" y="2339">Browse in CAS</tspan></text><rect class="bar" x="1248" y="2347" width="240" height="8"/></g>
<g id="AR06"><text class="t"><tspan x="1368" y="2389">AR06: Enter</tspan><tspan x="1368" y="2420">Application</tspan><tspan x="1368" y="2451">Requirements in ATS</tspan></text><rect class="bar" x="1248" y="2459" width="240" height="8"/></g>
<g id="AR07"><text class="t"><tspan x="1368" y="2505">AR07: Military</tspan><tspan x="1368" y="2536">Assistance</tspan></text><rect class="bar" x="1248" y="2544" width="240" height="8"/></g>
<g id="AR08"><text class="t"><tspan x="1368" y="2597">AR08: Family Support</tspan><tspan x="1368" y="2628">Validation</tspan></text><rect class="bar" x="1248" y="2636" width="240" height="8"/></g>
<g id="AR09"><text class="t"><tspan x="1368" y="2684">AR09: Refunding/</tspan><tspan x="1368" y="2715">Transferring Fees</tspan></text><rect class="bar" x="1248" y="2723" width="240" height="8"/></g>
<g id="AR10"><text class="t"><tspan x="1368" y="2762">AR10: Application</tspan><tspan x="1368" y="2793">Abandoned</tspan></text><rect class="bar" x="1248" y="2801" width="240" height="8"/></g>
<g id="AR11"><text class="t"><tspan x="1368" y="2841">AR11: Mobile</tspan><tspan x="1368" y="2872">Automotive Repair</tspan></text><rect class="bar" x="1248" y="2880" width="240" height="8"/></g>
<g id="AR12"><text class="t" x="1368" y="2927">AR12: Licensing Fleets</text><rect class="bar" x="1248" y="2935" width="240" height="8"/></g>
<g id="AR13"><text class="t"><tspan x="1368" y="2981">AR13: Entering</tspan><tspan x="1368" y="3012">Licensing</tspan><tspan x="1368" y="3043">Requirements in CAS</tspan><tspan x="1368" y="3074">(Fleets)</tspan></text><rect class="bar" x="1248" y="3082" width="240" height="8"/></g>
<g id="AR14"><text class="t"><tspan x="1368" y="3125">AR14: STAR Existing</tspan><tspan x="1368" y="3156">Station Process</tspan></text><rect class="bar" x="1248" y="3164" width="240" height="8"/></g>
<g id="AR15"><text class="t"><tspan x="1368" y="3233">AR15: Cashiering</tspan><tspan x="1368" y="3264">Transmittal Process</tspan></text><rect class="bar" x="1248" y="3272" width="240" height="8"/></g>

<!-- Smog Check Inspector/Repair Technician items -->
<g id="SR01"><text class="t"><tspan x="1756" y="1533">SR01: Applicant</tspan><tspan x="1756" y="1564">Process</tspan></text><rect class="bar" x="1636" y="1572" width="241" height="8"/></g>
<g id="SR02"><text class="t" x="1756" y="1621">SR02: Intake Process</text><rect class="bar" x="1636" y="1629" width="241" height="8"/></g>
<g id="SR03"><text class="t"><tspan x="1756" y="1686">SR03: Processing an</tspan><tspan x="1756" y="1717">Application</tspan></text><rect class="bar" x="1636" y="1725" width="241" height="8"/></g>
<g id="SR04"><text class="t"><tspan x="1747" y="1763">SR04: Application</tspan><tspan x="1747" y="1794">Deficiency</tspan></text><rect class="bar" x="1628" y="1802" width="239" height="8"/></g>
<g id="SR05"><text class="t"><tspan x="1752" y="1848">SR05: Licensing &amp;</tspan><tspan x="1752" y="1879">Enforcement Browse</tspan><tspan x="1752" y="1910">in CAS</tspan></text><rect class="bar" x="1632" y="1918" width="240" height="8"/></g>
<g id="SR06"><text class="t"><tspan x="1753" y="1958">SR06: Enter</tspan><tspan x="1753" y="1989">Application</tspan><tspan x="1753" y="2020">Requirements in ATS</tspan></text><rect class="bar" x="1632" y="2028" width="242" height="8"/></g>
<g id="SR07"><text class="t"><tspan x="1753" y="2071">SR07: Military</tspan><tspan x="1753" y="2102">Assistance</tspan></text><rect class="bar" x="1632" y="2110" width="242" height="8"/></g>
<g id="SR08"><text class="t"><tspan x="1753" y="2170">SR08: Family Support</tspan><tspan x="1753" y="2201">Validation</tspan></text><rect class="bar" x="1632" y="2209" width="242" height="8"/></g>
<g id="SR09"><text class="t"><tspan x="1753" y="2257">SR09: Refunding/</tspan><tspan x="1753" y="2288">Transferring Fees</tspan></text><rect class="bar" x="1632" y="2296" width="242" height="8"/></g>
<g id="SR10"><text class="t"><tspan x="1753" y="2342">SR10: Application</tspan><tspan x="1753" y="2373">Abandoned</tspan></text><rect class="bar" x="1632" y="2381" width="242" height="8"/></g>
<g id="SR11"><text class="t"><tspan x="1753" y="2443">SR11: PSI Error Badge</tspan><tspan x="1753" y="2474">Requests</tspan></text><rect class="bar" x="1632" y="2482" width="242" height="8"/></g>
<g id="SR12"><text class="t"><tspan x="1753" y="2536">SR12: Error in ATS-</tspan><tspan x="1753" y="2567">Status Automatically</tspan><tspan x="1753" y="2598">resets to “T”</tspan></text><rect class="bar" x="1632" y="2606" width="242" height="8"/></g>
<g id="SR13"><text class="t"><tspan x="1753" y="2641">SR13: Cashiering</tspan><tspan x="1753" y="2672">Transmittal Process</tspan></text><rect class="bar" x="1632" y="2680" width="242" height="8"/></g>

<!-- Application Investigation items -->
<g id="AI01"><text class="t"><tspan x="1726" y="2851">AI01: Create an</tspan><tspan x="1726" y="2882">Application</tspan><tspan x="1726" y="2913">Investigation</tspan></text><rect class="bar" x="1606" y="2921" width="240" height="8"/></g>
<g id="AI02"><text class="t"><tspan x="1726" y="2971">AI02: Background</tspan><tspan x="1726" y="3002">Letter</tspan></text><rect class="bar" x="1606" y="3010" width="240" height="8"/></g>
<g id="AI03"><text class="t"><tspan x="1726" y="3050">AI03: Update Request</tspan><tspan x="1726" y="3081">for Application</tspan><tspan x="1726" y="3112">Investigation</tspan></text><rect class="bar" x="1606" y="3120" width="240" height="8"/></g>
</svg>
